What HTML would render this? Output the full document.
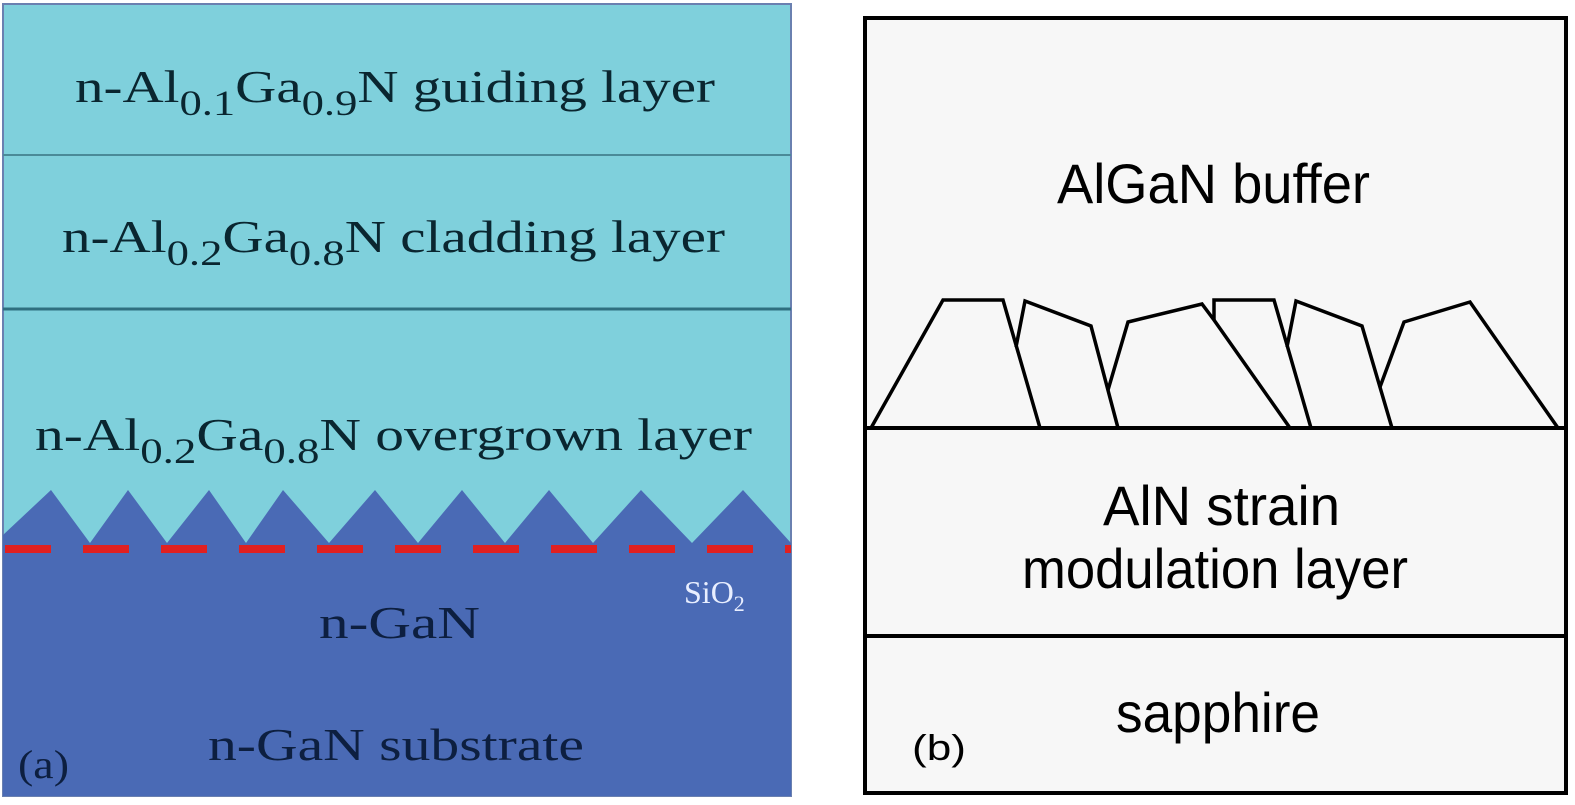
<!DOCTYPE html>
<html><head><style>
html,body{margin:0;padding:0;background:#fff;}
svg{display:block;}
</style></head><body>
<svg width="1575" height="805" viewBox="0 0 1575 805" xmlns="http://www.w3.org/2000/svg">
<rect x="0" y="0" width="1575" height="805" fill="#ffffff"/>
<!-- Panel a -->
<rect x="3" y="4" width="788" height="792" fill="#7fd0dc" stroke="#6a80b0" stroke-width="2"/>
<line x1="3" y1="155" x2="791" y2="155" stroke="#4a8a98" stroke-width="2"/>
<line x1="3" y1="309" x2="791" y2="309" stroke="#2f6f80" stroke-width="3"/>
<polygon fill="#4a6ab5" points="3,548 3,535 51,490 90,543 128,490 167,543 209,490 246,543 283,490 329,543 375,490 418,543 462,490 505,543 549,490 593,543 641,490 692,543 743,490 791,543 791,548"/>
<rect x="3" y="548" width="788" height="248" fill="#4a6ab5"/>
<line x1="3" y1="549" x2="791" y2="549" stroke="#e02020" stroke-width="8" stroke-dasharray="46 32" stroke-dashoffset="-2"/>
<g font-family="Liberation Serif, serif" fill="#0a2630" font-size="46">
<text x="75" y="102" textLength="640" lengthAdjust="spacingAndGlyphs">n-Al<tspan font-size="36" dy="13">0.1</tspan><tspan dy="-13">Ga</tspan><tspan font-size="36" dy="13">0.9</tspan><tspan dy="-13">N guiding layer</tspan></text>
<text x="62" y="252" textLength="663" lengthAdjust="spacingAndGlyphs">n-Al<tspan font-size="36" dy="13">0.2</tspan><tspan dy="-13">Ga</tspan><tspan font-size="36" dy="13">0.8</tspan><tspan dy="-13">N cladding layer</tspan></text>
<text x="35" y="450" textLength="717" lengthAdjust="spacingAndGlyphs">n-Al<tspan font-size="36" dy="13">0.2</tspan><tspan dy="-13">Ga</tspan><tspan font-size="36" dy="13">0.8</tspan><tspan dy="-13">N overgrown layer</tspan></text>
<text x="319" y="638" fill="#0d1f40" textLength="161" lengthAdjust="spacingAndGlyphs">n-GaN</text>
<text x="208" y="760" fill="#0d1f40" textLength="376" lengthAdjust="spacingAndGlyphs">n-GaN substrate</text>
</g>
<text x="18" y="778" font-family="Liberation Serif, serif" font-size="40" fill="#0d1f40" textLength="51" lengthAdjust="spacingAndGlyphs">(a)</text>
<text x="684" y="603" font-family="Liberation Serif, serif" font-size="32" fill="#e8eeff">SiO<tspan font-size="22" dy="8">2</tspan></text>
<!-- Panel b -->
<rect x="865" y="18" width="701" height="775" fill="#f7f7f7" stroke="#000" stroke-width="4"/>
<line x1="865" y1="428" x2="1566" y2="428" stroke="#000" stroke-width="4"/>
<line x1="865" y1="636" x2="1566" y2="636" stroke="#000" stroke-width="4"/>
<g fill="none" stroke="#000" stroke-width="3.5" stroke-linejoin="miter">
<polyline points="871,428 943,300 1003,300 1040,428"/>
<polyline points="1016,347 1025,301 1091,326 1118,428"/>
<polyline points="1108,390 1128,322 1202,304 1214,320 1290,428"/>
<polyline points="1214,320 1214,300 1274,300 1311,428"/>
<polyline points="1287,347 1296,301 1362,326 1392,428"/>
<polyline points="1380,387 1404,322 1470,302 1558,428"/>
</g>
<g font-family="Liberation Sans, sans-serif" font-size="56" fill="#000">
<text x="1057" y="203" textLength="313" lengthAdjust="spacingAndGlyphs">AlGaN buffer</text>
<text x="1103" y="525" textLength="237" lengthAdjust="spacingAndGlyphs">AlN strain</text>
<text x="1022" y="588" textLength="386" lengthAdjust="spacingAndGlyphs">modulation layer</text>
<text x="1116" y="732" textLength="204" lengthAdjust="spacingAndGlyphs">sapphire</text>
</g>
<text x="912" y="760" font-family="Liberation Sans, sans-serif" font-size="36" fill="#000" textLength="54" lengthAdjust="spacingAndGlyphs">(b)</text>
</svg>
</body></html>
